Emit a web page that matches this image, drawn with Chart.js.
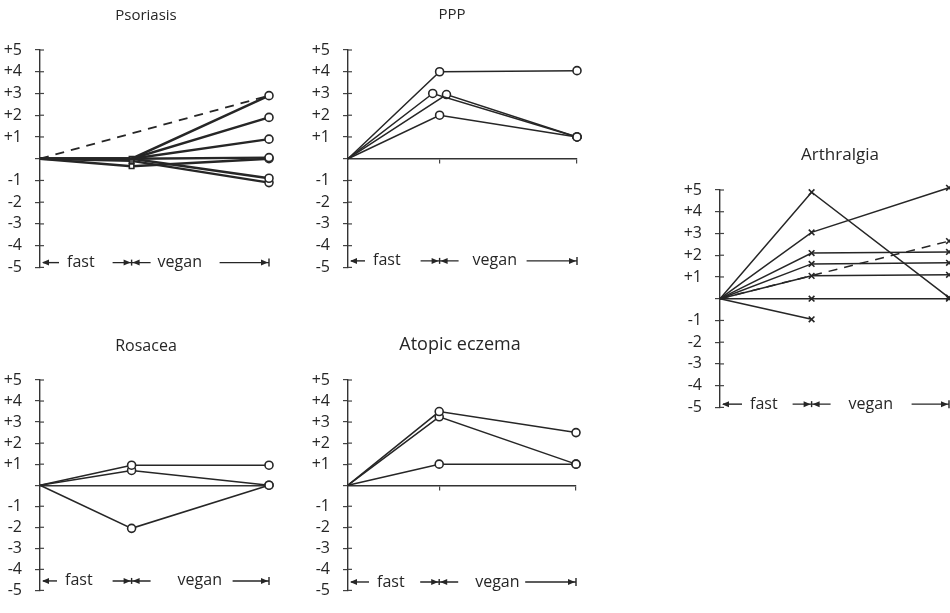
<!DOCTYPE html>
<html>
<head>
<meta charset="utf-8">
<script src="https://cdn.jsdelivr.net/npm/chart.js@4.4.1/dist/chart.umd.min.js"></script>
<style>
  html, body { margin: 0; padding: 0; background: #fff; overflow: hidden; }
  body { width: 950px; height: 613px; position: relative; }
  canvas { position: absolute; }
</style>
</head>
<body>
<canvas id="psoriasis" width="292" height="290" style="left:0px;top:0px"></canvas>
<canvas id="ppp" width="300" height="290" style="left:300px;top:0px"></canvas>
<canvas id="rosacea" width="292" height="313" style="left:0px;top:300px"></canvas>
<canvas id="eczema" width="300" height="313" style="left:300px;top:300px"></canvas>
<canvas id="arthralgia" width="330" height="310" style="left:640px;top:120px"></canvas>
<script>
// time axis: start, end of fast, end of vegan diet
var phaseX = [0, 4, 10];
var yTicks = [-5, -4, -3, -2, -1, 0, 1, 2, 3, 4, 5];

// score per patient at the three time points (null = no value)
var psoriasisY = [
  [0, 0, 2.9],
  [0, 0, 1.9],
  [0, 0, 0.9],
  [0, 0, 0.05],
  [0, -0.35, 0],
  [0, 0, -0.9],
  [0, -0.1, -1.1]
];
var psoriasisDashed = [0, null, 2.9];

var pppY = [
  [0, 4, 4.05],
  [0, 3, 1],
  [0, 2.95, 1],
  [0, 2, 1]
];
var pppMidX = [4, 3.7, 4.3, 4];

var rosaceaY = [
  [0, 0.95, 0.95],
  [0, 0.7, 0],
  [0, -2.05, 0]
];

var eczemaY = [
  [0, 3.5, 2.5],
  [0, 3.25, 1],
  [0, 1, 1]
];

var arthralgiaY = [
  [0, 4.9, 0.05],
  [0, 3.05, 5.1],
  [0, 2.1, 2.15],
  [0, 1.6, 1.65],
  [0, 1.05, 1.1],
  [0, 0, 0],
  [0, -0.95, null]
];
var arthralgiaDashed = [0, null, 2.65];

var INK = '#262626';
var FONT = '"Open Sans", "DejaVu Sans", sans-serif';

function toPoints(ys, xs) {
  var pts = [];
  ys.forEach(function (v, i) {
    if (v !== null) pts.push({ x: xs[i], y: v });
  });
  return pts;
}

function line(c, x1, y1, x2, y2) {
  c.beginPath(); c.moveTo(x1, y1); c.lineTo(x2, y2); c.stroke();
}

function head(c, x, y, dir) {
  c.beginPath();
  c.moveTo(x, y);
  c.lineTo(x - dir * 7, y - 3);
  c.lineTo(x - dir * 7, y + 3);
  c.closePath();
  c.fill();
}

function makePanel(id, p) {
  var decor = {
    id: 'panelDecor',
    afterDraw: function (chart) {
      var c = chart.ctx, xs = chart.scales.x, ys = chart.scales.y;
      c.save();
      c.fillStyle = INK;
      c.font = p.titleSize + 'px ' + FONT;
      c.textAlign = 'center';
      c.textBaseline = 'middle';
      c.fillText(p.title, p.titleX, p.titleY);

      // right half of the y tick crosses
      c.strokeStyle = '#444';
      c.lineWidth = 1.2;
      ys.ticks.forEach(function (t) {
        if (t.value === 0) return;
        var py = ys.getPixelForValue(t.value);
        line(c, ys.right, py, ys.right + 4, py);
      });

      // fast / vegan phase marker
      var x0 = xs.getPixelForValue(phaseX[0]);
      var xm = xs.getPixelForValue(phaseX[1]);
      var xe = xs.getPixelForValue(phaseX[2]);
      var ly = ys.getPixelForValue(p.legendY);
      c.strokeStyle = INK;
      c.lineWidth = 1.4;
      line(c, x0 + 3, ly, x0 + p.fastDx - 8, ly);
      head(c, x0 + 2, ly, -1);
      c.font = '16px ' + FONT;
      c.textAlign = 'left';
      c.fillText('fast', x0 + p.fastDx, ly);
      line(c, xm - 19, ly, xm + 19, ly);
      head(c, xm - 1, ly, 1);
      head(c, xm + 1, ly, -1);
      line(c, xm, ly - 3, xm, ly + 3);
      c.fillText('vegan', xm + p.veganDx, ly);
      line(c, xm + p.lineDx, ly, xe, ly);
      head(c, xe - 1, ly, 1);
      line(c, xe, ly - 4, xe, ly + 4);
      c.restore();
    }
  };

  var xAxis = { type: 'linear', min: 0, max: 10, display: false };
  if (p.zeroAxis) {
    xAxis = {
      type: 'linear', min: 0, max: 10,
      position: { y: 0 },
      afterBuildTicks: function (s) {
        s.ticks = p.zeroTicks ? phaseX.slice(1).map(function (v) { return { value: v }; }) : [];
      },
      ticks: { display: false },
      grid: { drawOnChartArea: false, drawTicks: !!p.zeroTicks, tickLength: 4, color: '#444', lineWidth: 1.2 },
      border: { color: '#333', width: 1.4 }
    };
  }

  return new Chart(document.getElementById(id).getContext('2d'), {
    type: 'line',
    data: { datasets: p.datasets },
    options: {
      responsive: false,
      animation: false,
      events: [],
      layout: { padding: p.padding, autoPadding: false },
      plugins: { legend: { display: false }, tooltip: { enabled: false } },
      scales: {
        x: xAxis,
        y: {
          min: -5, max: 5,
          afterFit: function (s) { s.width = 40; },
          afterBuildTicks: function (s) {
            s.ticks = yTicks.map(function (v) { return { value: v }; });
          },
          ticks: {
            padding: 13,
            color: INK,
            font: { family: FONT, size: 16 },
            callback: function (v) { return v > 0 ? '+' + v : (v < 0 ? '' + v : ''); }
          },
          grid: { drawOnChartArea: false, tickLength: 5, color: '#444', lineWidth: 1.2 },
          border: { color: '#333', width: 1.4 }
        }
      }
    },
    plugins: [decor]
  });
}

function lineSet(pts, lw, style, radiusFor, dashed) {
  return {
    data: pts,
    borderColor: INK,
    borderWidth: lw,
    borderDash: dashed ? [9, 7] : [],
    tension: 0,
    clip: false,
    pointStyle: style,
    pointBackgroundColor: '#fff',
    pointBorderColor: INK,
    pointBorderWidth: 1.6,
    pointRadius: function (ctx) { return radiusFor(ctx.raw); }
  };
}

// Psoriasis
var psoriasisSets = psoriasisY.map(function (ys) {
  var square = ys[1] !== 0 || ys[2] === 0.05;
  var ds = lineSet(toPoints(ys, phaseX), 2.4, 'circle', function (pt) {
    if (pt.x === 0) return 0;
    if (pt.x === phaseX[1]) return square ? 3.2 : 0;
    return 4;
  });
  ds.pointStyle = function (ctx) { return ctx.raw.x === phaseX[1] ? 'rect' : 'circle'; };
  return ds;
});
psoriasisSets.push(lineSet(toPoints(psoriasisDashed, phaseX), 1.8, 'circle', function () { return 0; }, true));

makePanel('psoriasis', {
  title: 'Psoriasis', titleX: 146, titleY: 16, titleSize: 15,
  padding: { left: 0, right: 23, top: 50, bottom: 15 },
  legendY: -4.78, fastDx: 27, veganDx: 26, lineDx: 88,
  datasets: psoriasisSets
});

// PPP
makePanel('ppp', {
  title: 'PPP', titleX: 152, titleY: 15, titleSize: 15,
  padding: { left: 8, right: 23, top: 50, bottom: 14 },
  zeroAxis: true, zeroTicks: true,
  legendY: -4.7, fastDx: 25, veganDx: 33, lineDx: 87,
  datasets: pppY.map(function (ys, i) {
    return lineSet(toPoints(ys, [phaseX[0], pppMidX[i], phaseX[2]]), 1.5, 'circle', function (pt) {
      return pt.x === 0 ? 0 : 4;
    });
  })
});

// Rosacea
makePanel('rosacea', {
  title: 'Rosacea', titleX: 146, titleY: 46, titleSize: 16,
  padding: { left: 0, right: 23, top: 80, bottom: 11 },
  zeroAxis: true, zeroTicks: false,
  legendY: -4.55, fastDx: 25, veganDx: 46, lineDx: 101,
  datasets: rosaceaY.map(function (ys) {
    return lineSet(toPoints(ys, phaseX), 1.5, 'circle', function (pt) {
      return pt.x === 0 ? 0 : 4;
    });
  })
});

// Atopic eczema
makePanel('eczema', {
  title: 'Atopic eczema', titleX: 160, titleY: 45, titleSize: 18,
  padding: { left: 8, right: 24, top: 80, bottom: 10 },
  zeroAxis: true, zeroTicks: true,
  legendY: -4.6, fastDx: 29, veganDx: 36, lineDx: 86,
  datasets: eczemaY.map(function (ys) {
    return lineSet(toPoints(ys, phaseX), 1.5, 'circle', function (pt) {
      return pt.x === 0 ? 0 : 4;
    });
  })
});

// Arthralgia
var arthralgiaSets = arthralgiaY.map(function (ys) {
  return lineSet(toPoints(ys, phaseX), 1.5, 'crossRot', function (pt) {
    return pt.x === 0 ? 0 : 4;
  });
});
arthralgiaSets.push(lineSet(toPoints(arthralgiaDashed, phaseX), 1.5, 'crossRot', function (pt) {
  return pt.x === 0 ? 0 : 4;
}, true));

makePanel('arthralgia', {
  title: 'Arthralgia', titleX: 200, titleY: 35, titleSize: 17,
  padding: { left: 40, right: 21, top: 70, bottom: 13 },
  legendY: -4.85, fastDx: 30, veganDx: 37, lineDx: 100,
  datasets: arthralgiaSets
});
</script>
</body>
</html>
